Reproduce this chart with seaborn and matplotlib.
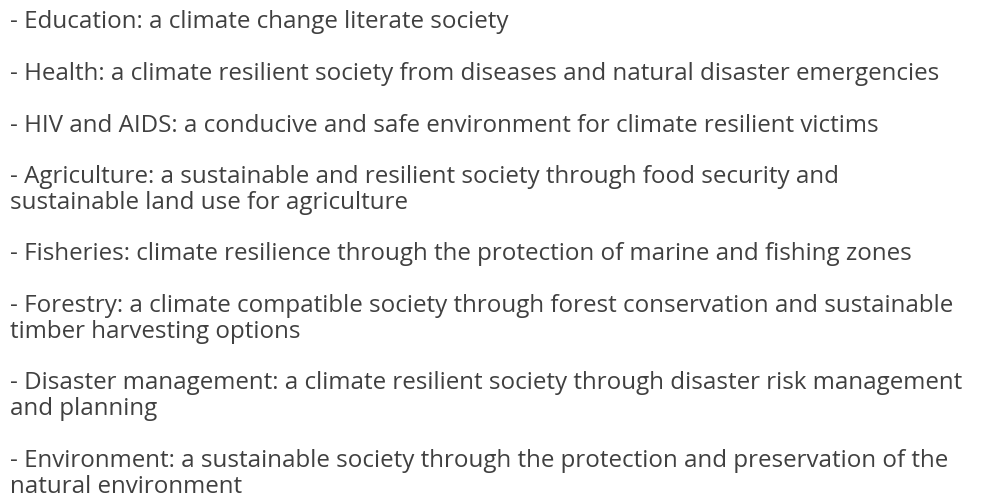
import seaborn as sns
import matplotlib.pyplot as plt

sns.set_theme(style="white")
plt.rcParams["font.family"] = ["Open Sans", "DejaVu Sans"]

# Bullet items (each inner list = the wrapped lines of one item)
items = [
    ["- Education: a climate change literate society"],
    ["- Health: a climate resilient society from diseases and natural disaster emergencies"],
    ["- HIV and AIDS: a conducive and safe environment for climate resilient victims"],
    ["- Agriculture: a sustainable and resilient society through food security and",
     "sustainable land use for agriculture"],
    ["- Fisheries: climate resilience through the protection of marine and fishing zones"],
    ["- Forestry: a climate compatible society through forest conservation and sustainable",
     "timber harvesting options"],
    ["- Disaster management: a climate resilient society through disaster risk management",
     "and planning"],
    ["- Environment: a sustainable society through the protection and preservation of the",
     "natural environment"],
]

text_color = "#404040"

fig = plt.figure(figsize=(9.95, 5.02), dpi=100)
ax = fig.add_axes([0, 0, 1, 1])
ax.set_xlim(0, 995)
ax.set_ylim(502, 0)
ax.axis("off")

# Layout in pixels: line pitch inside an item and start-to-start gap between items
line_pitch = 26
item_gap = 51.5
y = 22.5
for lines in items:
    for i, line in enumerate(lines):
        ax.text(10, y + i * line_pitch, line, fontsize=17.4, color=text_color,
                ha="left", va="center")
    y += (len(lines) - 1) * line_pitch + item_gap

fig.savefig("out.png", dpi=100, facecolor="white")
